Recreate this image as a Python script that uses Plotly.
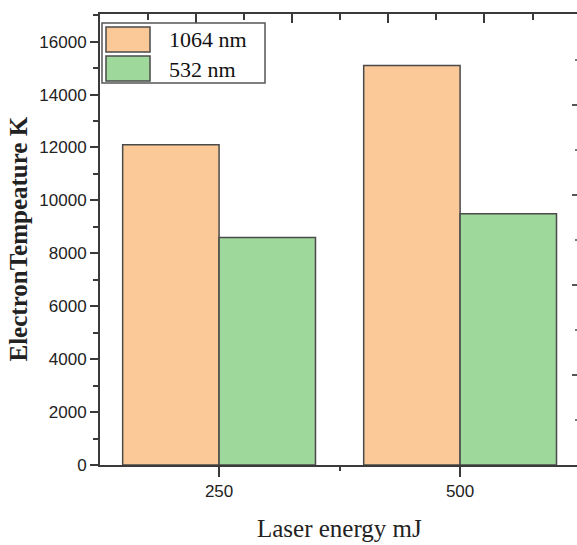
import plotly.graph_objects as go

# Laser energy groups and measured electron temperatures (K)
energies = ["250", "500"]
series_names = ["1064 nm", "532 nm"]
temp_1064 = [12100, 15100]
temp_532 = [8600, 9500]
series_values = [temp_1064, temp_532]
colors = ["#FBC997", "#9ED89B"]

y_ticks = [0, 2000, 4000, 6000, 8000, 10000, 12000, 14000, 16000]

W, H = 577, 545
L, R, T, B = 100, 0, 14, 80

fig = go.Figure()
xpos = list(range(len(energies)))
for name, vals, col in zip(series_names, series_values, colors):
    fig.add_trace(go.Bar(
        x=xpos, y=vals, name=name,
        marker=dict(color=col, line=dict(color="#4a4a4a", width=1.5)),
        showlegend=False,
    ))

# invisible traces carrying the top / right frame axes
for xa in ("x2", "x3"):
    fig.add_trace(go.Scatter(x=[0, 4], y=[0, 4], xaxis=xa, yaxis="y2",
                             mode="markers", marker=dict(opacity=0),
                             showlegend=False, hoverinfo="skip"))

axis_col = "#3a3a3a"
tick_font = dict(family="Liberation Sans, Arial, sans-serif", size=17, color="#222")

fig.update_layout(
    width=W, height=H,
    margin=dict(l=L, r=R, t=T, b=B),
    paper_bgcolor="white", plot_bgcolor="white",
    barmode="group", bargap=0.2, bargroupgap=0,
    xaxis=dict(
        range=[-0.494, 1.485], tickvals=xpos, ticktext=energies,
        showgrid=False, zeroline=False,
        showline=True, linecolor=axis_col, linewidth=2,
        ticks="outside", ticklen=10, tickwidth=1.5, tickcolor=axis_col,
        minor=dict(tickvals=[0.5], ticks="outside", ticklen=4,
                   tickwidth=1.5, tickcolor=axis_col),
        tickfont=tick_font,
    ),
    yaxis=dict(
        range=[0, 17045], tickvals=y_ticks,
        ticktext=[str(v) for v in y_ticks],
        showgrid=False, zeroline=False,
        showline=True, linecolor=axis_col, linewidth=2,
        ticks="outside", ticklen=8, tickwidth=1.5, tickcolor=axis_col,
        minor=dict(dtick=1000, ticks="outside", ticklen=5,
                   tickwidth=1.5, tickcolor=axis_col),
        tickfont=tick_font,
    ),
    # top frame: major ticks
    xaxis2=dict(
        overlaying="x", side="top", anchor="y2",
        range=[0, 4.963], tickvals=[1, 2, 3, 4],
        showticklabels=False, showgrid=False, zeroline=False,
        showline=True, linecolor=axis_col, linewidth=2,
        ticks="inside", ticklen=9, tickwidth=1.5, tickcolor=axis_col,
    ),
    # top frame: minor ticks
    xaxis3=dict(
        overlaying="x", side="top", anchor="y2",
        range=[0, 4.963], tickvals=[0.5, 1.5, 2.5, 3.5, 4.5],
        showticklabels=False, showgrid=False, zeroline=False, showline=False,
        ticks="inside", ticklen=6, tickwidth=1.5, tickcolor=axis_col,
    ),
    yaxis2=dict(
        overlaying="y", side="right", anchor="x2",
        range=[0, 5.011], tickmode="linear", tick0=0, dtick=1,
        showticklabels=False, showgrid=False, zeroline=False, showline=False,
        ticks="inside", ticklen=5, tickwidth=1.5, tickcolor="#555",
        minor=dict(tick0=0, dtick=0.5, ticks="inside",
                   ticklen=2, tickwidth=1.5, tickcolor="#777"),
    ),
)

# axis titles
fig.add_annotation(
    text="<b>ElectronTempeature K</b>", textangle=-90,
    xref="paper", yref="paper", x=(18 - L) / (W - L - R), y=0.5,
    xanchor="center", yanchor="middle", showarrow=False,
    font=dict(family="Liberation Serif, Times New Roman, serif", size=25,
              color="#222"),
)
fig.add_annotation(
    text="Laser energy mJ",
    xref="paper", yref="paper", x=(339 - L) / (W - L - R),
    y=-(528 - (H - B)) / (H - T - B),
    xanchor="center", yanchor="middle", showarrow=False,
    font=dict(family="Liberation Serif, Times New Roman, serif", size=25,
              color="#222"),
)

# legend box with large swatches
pw, ph = W - L - R, H - T - B
def px(x):
    return (x - L) / pw
def py(y):
    return 1 - (y - T) / ph

fig.add_shape(type="rect", xref="paper", yref="paper",
              x0=px(102), x1=px(265), y0=py(83), y1=py(23),
              line=dict(color="#555", width=1.5), fillcolor="white")
for i, (name, col) in enumerate(zip(series_names, colors)):
    top = 27 + i * 29
    fig.add_shape(type="rect", xref="paper", yref="paper",
                  x0=px(106), x1=px(150), y0=py(top + 25), y1=py(top),
                  line=dict(color="#4a4a4a", width=1.5), fillcolor=col)
    fig.add_annotation(
        text=name, xref="paper", yref="paper",
        x=px(167), y=py(top + 13), xanchor="left", yanchor="middle",
        showarrow=False,
        font=dict(family="Liberation Serif, Times New Roman, serif", size=22,
                  color="#111"),
    )

fig.write_html("out.html")
